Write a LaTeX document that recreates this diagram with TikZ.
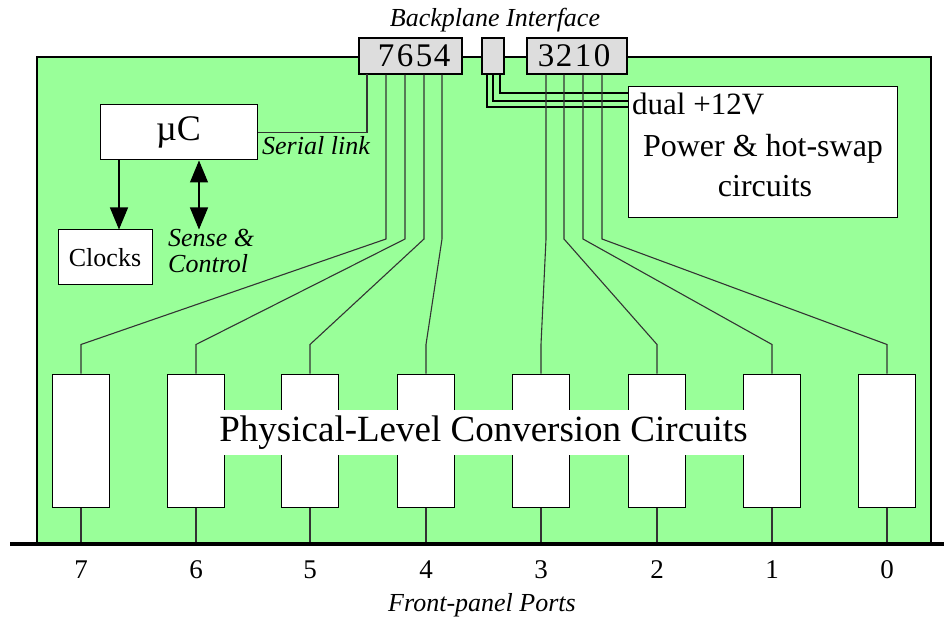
\documentclass[tikz,border=0pt]{standalone}
\usepackage{fontspec}
\setmainfont{Liberation Serif}
\usetikzlibrary{arrows.meta,calc}
\definecolor{board}{RGB}{153,255,153}
\definecolor{pingray}{RGB}{221,221,221}
\newcommand{\fsz}[1]{\fontsize{#1}{#1}\selectfont}
\begin{document}
\begin{tikzpicture}[x=1pt,y=-1pt,
  wire/.style={line width=1.1pt, draw=black!80},
  pwr/.style={line width=2pt, draw=black},
  blk/.style={draw=black, fill=white, line width=1pt, inner sep=0pt},
  conn/.style={draw=black, fill=pingray, line width=1.2pt, inner sep=0pt, minimum height=36pt},
  phy/.style={blk, minimum width=57pt, minimum height=133pt},
  txt/.style={inner sep=0pt},
  digit/.style={txt, anchor=base, font=\fsz{33}},
  port/.style={txt, anchor=base, font=\fsz{27}},
  note/.style={txt, font=\itshape\fsz{26}},
  bigarrow/.style={line width=1.1pt, arrows={-Triangle[length=22pt,width=18pt]}},
  dblarrow/.style={line width=1.1pt, arrows={Triangle[length=22pt,width=18pt]-Triangle[length=22pt,width=18pt]}}
]
\useasboundingbox (0,0) rectangle (944,617);

% board
\fill[board] (37,57) rectangle (931,544);
\draw[line width=2.5pt] (37,544) -- (37,57) -- (931,57) -- (931,544);
\coordinate (gl) at (10,544);
\coordinate (gr) at (944,544);

% helper levels
\coordinate (kink) at (0,239);
\coordinate (lab) at (0,578);

% backplane connectors
\node[conn, minimum width=103pt] (bpA) at (410.5,56) {};
\node[conn, minimum width=22pt] (bpM) at (493,56) {};
\node[conn, minimum width=100pt] (bpB) at (577,56) {};
\node[txt, anchor=base, font=\itshape\fsz{26}] (title) at (495,27) {Backplane Interface};

\node[digit] (d7) at (386,67) {7};
\node[digit] (d6) at (405,67) {6};
\node[digit] (d5) at (424,67) {5};
\node[digit] (d4) at (442,67) {4};
\node[digit] (d3) at (546,67) {3};
\node[digit] (d2) at (564,67) {2};
\node[digit] (d1) at (583,67) {1};
\node[digit] (d0) at (602,67) {0};

% microcontroller, clocks
\node[blk, minimum width=157pt, minimum height=55pt, font=\fsz{36}] (uc) at (178.5,132.5) {µC};
\node[blk, minimum width=94pt, minimum height=55pt, font=\fsz{26}] (clk) at (105,257.5) {Clocks};
\coordinate (ser) at (367,74);
\draw[wire] (ser) |- (uc.east);
\node[note, anchor=base west] (serlab) at (262,155) {Serial link};

\coordinate (ax) at (119,0);
\coordinate (bx) at (199,0);
\draw[bigarrow] (uc.south -| ax) -- (clk.north -| ax);
\draw[dblarrow] (uc.south -| bx) -- (clk.north -| bx);
\node[note, anchor=base west] (sense1) at (168,247) {Sense \&};
\node[note, anchor=base west] (sense2) at (168,273) {Control};

% power
\node[blk, minimum width=269pt, minimum height=131pt] (power) at (762.5,152.5) {};
\node[txt, anchor=base west, font=\fsz{31}] (dual) at (632,115) {dual +12V};
\node[txt, anchor=base, font=\fsz{32}] (pw1) at (763,157) {Power \& hot-swap};
\node[txt, anchor=base, font=\fsz{32}] (pw2) at (765,197) {circuits};
\draw[pwr] ($(bpM.south west)+(6,0)$) |- ($(power.north west)+(0,21)$);
\draw[pwr] ($(bpM.south west)+(12,0)$) |- ($(power.north west)+(0,15)$);
\draw[pwr] ($(bpM.south west)+(19,0)$) |- ($(power.north west)+(0,7)$);

% physical-level boxes
\foreach \n/\x in {7/81,6/196,5/310,4/426,3/541,2/657,1/772,0/887}{
  \node[phy] (p\n) at (\x,440.5) {};
  \draw[wire] (p\n.south) -- (p\n.south |- gl);
  \node[port] (l\n) at (p\n |- lab) {\n};
}
\foreach \n in {7,6,5,4,3,2,1,0}{
  \draw[wire] (bpA.south -| d\n) -- (d\n |- kink) -- ($(p\n.north)+(0,-29)$) -- (p\n.north);
}
\node[fill=white, inner sep=0pt, minimum width=533pt, minimum height=45pt, font=\fsz{37}] (phys) at (483.5,432.5) {Physical-Level Conversion Circuits};

% front panel
\draw[line width=4.5pt] (gl) -- (gr);
\node[txt, anchor=base, font=\itshape\fsz{26}] (fp) at (482,611) {Front-panel Ports};
\end{tikzpicture}
\end{document}
